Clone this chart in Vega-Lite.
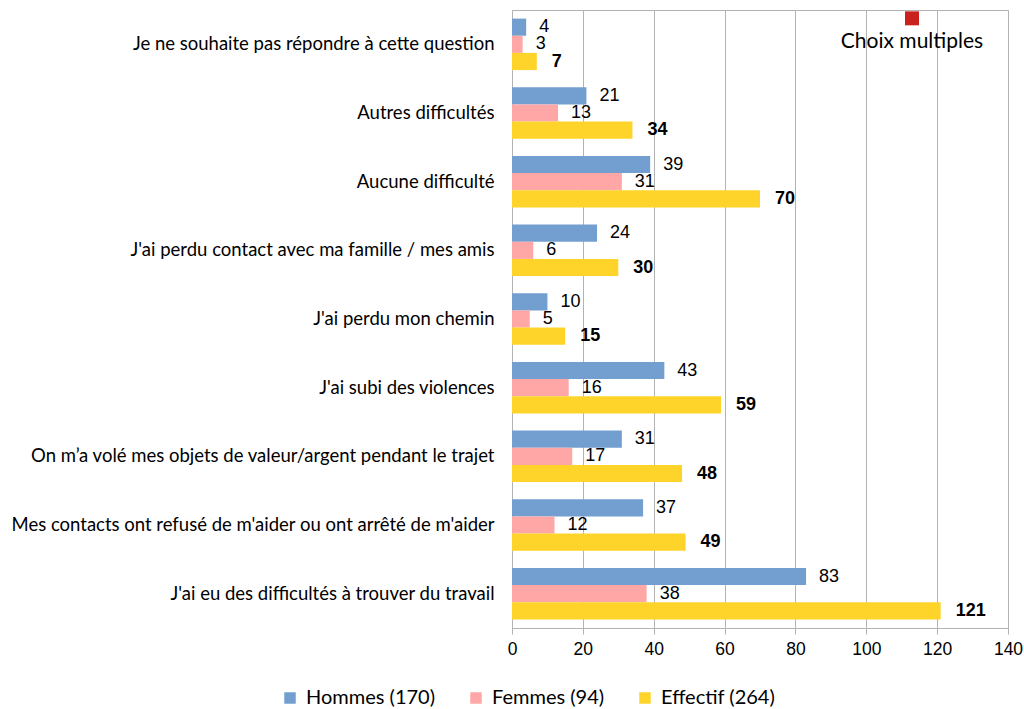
{
  "$schema": "https://vega.github.io/schema/vega-lite/v6.json",
  "width": 496,
  "height": 618,
  "padding": {"left": 10, "top": 10, "right": 0, "bottom": 5},
  "background": "white",
  "config": {
    "view": {"stroke": "#b3b3b3", "strokeWidth": 1},
    "axis": {"labelColor": "black", "titleColor": "black"}
  },
  "datasets": {
    "main": [
      {"cat": "Je ne souhaite pas répondre à cette question", "groupe": "Hommes (170)", "v": 4},
      {"cat": "Je ne souhaite pas répondre à cette question", "groupe": "Femmes (94)", "v": 3},
      {"cat": "Je ne souhaite pas répondre à cette question", "groupe": "Effectif (264)", "v": 7},
      {"cat": "Autres difficultés", "groupe": "Hommes (170)", "v": 21},
      {"cat": "Autres difficultés", "groupe": "Femmes (94)", "v": 13},
      {"cat": "Autres difficultés", "groupe": "Effectif (264)", "v": 34},
      {"cat": "Aucune difficulté", "groupe": "Hommes (170)", "v": 39},
      {"cat": "Aucune difficulté", "groupe": "Femmes (94)", "v": 31},
      {"cat": "Aucune difficulté", "groupe": "Effectif (264)", "v": 70},
      {"cat": "J'ai perdu contact avec ma famille / mes amis", "groupe": "Hommes (170)", "v": 24},
      {"cat": "J'ai perdu contact avec ma famille / mes amis", "groupe": "Femmes (94)", "v": 6},
      {"cat": "J'ai perdu contact avec ma famille / mes amis", "groupe": "Effectif (264)", "v": 30},
      {"cat": "J'ai perdu mon chemin", "groupe": "Hommes (170)", "v": 10},
      {"cat": "J'ai perdu mon chemin", "groupe": "Femmes (94)", "v": 5},
      {"cat": "J'ai perdu mon chemin", "groupe": "Effectif (264)", "v": 15},
      {"cat": "J'ai subi des violences", "groupe": "Hommes (170)", "v": 43},
      {"cat": "J'ai subi des violences", "groupe": "Femmes (94)", "v": 16},
      {"cat": "J'ai subi des violences", "groupe": "Effectif (264)", "v": 59},
      {"cat": "On m’a volé mes objets de valeur/argent pendant le trajet", "groupe": "Hommes (170)", "v": 31},
      {"cat": "On m’a volé mes objets de valeur/argent pendant le trajet", "groupe": "Femmes (94)", "v": 17},
      {"cat": "On m’a volé mes objets de valeur/argent pendant le trajet", "groupe": "Effectif (264)", "v": 48},
      {"cat": "Mes contacts ont refusé de m'aider ou ont arrêté de m'aider", "groupe": "Hommes (170)", "v": 37},
      {"cat": "Mes contacts ont refusé de m'aider ou ont arrêté de m'aider", "groupe": "Femmes (94)", "v": 12},
      {"cat": "Mes contacts ont refusé de m'aider ou ont arrêté de m'aider", "groupe": "Effectif (264)", "v": 49},
      {"cat": "J'ai eu des difficultés à trouver du travail", "groupe": "Hommes (170)", "v": 83},
      {"cat": "J'ai eu des difficultés à trouver du travail", "groupe": "Femmes (94)", "v": 38},
      {"cat": "J'ai eu des difficultés à trouver du travail", "groupe": "Effectif (264)", "v": 121}
    ],
    "note": [
      {"cat": "Je ne souhaite pas répondre à cette question", "x": 112.9, "label": "Choix multiples"}
    ]
  },
  "encoding": {
    "y": {
      "field": "cat",
      "type": "nominal",
      "sort": [
        "Je ne souhaite pas répondre à cette question",
        "Autres difficultés",
        "Aucune difficulté",
        "J'ai perdu contact avec ma famille / mes amis",
        "J'ai perdu mon chemin",
        "J'ai subi des violences",
        "On m’a volé mes objets de valeur/argent pendant le trajet",
        "Mes contacts ont refusé de m'aider ou ont arrêté de m'aider",
        "J'ai eu des difficultés à trouver du travail"
      ],
      "scale": {"paddingInner": 0.25, "paddingOuter": 0.125},
      "axis": {
        "title": null,
        "domain": false,
        "ticks": false,
        "labelFont": "Lato",
        "labelFontSize": 18.5,
        "labelPadding": 18,
        "labelLimit": 700
      }
    }
  },
  "layer": [
    {
      "data": {"name": "main"},
      "mark": {"type": "bar"},
      "encoding": {
        "x": {
          "field": "v",
          "type": "quantitative",
          "scale": {"domain": [0, 140]},
          "axis": {
            "title": null,
            "values": [0, 20, 40, 60, 80, 100, 120, 140],
            "grid": true,
            "gridColor": "#b3b3b3",
            "domainColor": "#b3b3b3",
            "tickColor": "#b3b3b3",
            "tickSize": 6,
            "labelFlush": false,
            "labelOverlap": false,
            "labelFont": "Liberation Sans",
            "labelFontSize": 17.5,
            "labelPadding": 6
          }
        },
        "yOffset": {
          "field": "groupe",
          "sort": ["Hommes (170)", "Femmes (94)", "Effectif (264)"]
        },
        "color": {
          "field": "groupe",
          "type": "nominal",
          "sort": ["Hommes (170)", "Femmes (94)", "Effectif (264)"],
          "scale": {
            "domain": ["Hommes (170)", "Femmes (94)", "Effectif (264)"],
            "range": ["#729fcf", "#ffa6a6", "#ffd42a"]
          },
          "legend": {
            "title": null,
            "orient": "none",
            "legendX": -232,
            "legendY": 678,
            "direction": "horizontal",
            "symbolType": "square",
            "symbolSize": 132,
            "symbolStrokeWidth": 0,
            "labelFont": "Lato",
            "labelFontSize": 20,
            "labelColor": "black",
            "labelOffset": 6,
            "columnPadding": 30
          }
        }
      }
    },
    {
      "data": {"name": "main"},
      "transform": [{"filter": "datum.groupe !== 'Effectif (264)'"}],
      "mark": {"type": "text", "align": "left", "dx": 13, "font": "Liberation Sans", "fontSize": 18, "color": "black"},
      "encoding": {
        "x": {"field": "v", "type": "quantitative"},
        "yOffset": {
          "field": "groupe",
          "sort": ["Hommes (170)", "Femmes (94)", "Effectif (264)"]
        },
        "text": {"field": "v", "type": "quantitative"}
      }
    },
    {
      "data": {"name": "main"},
      "transform": [{"filter": "datum.groupe === 'Effectif (264)'"}],
      "mark": {"type": "text", "align": "left", "dx": 15, "font": "Liberation Sans", "fontSize": 18, "fontWeight": "bold", "color": "black"},
      "encoding": {
        "x": {"field": "v", "type": "quantitative"},
        "yOffset": {
          "field": "groupe",
          "sort": ["Hommes (170)", "Femmes (94)", "Effectif (264)"]
        },
        "text": {"field": "v", "type": "quantitative"}
      }
    },
    {
      "data": {"name": "note"},
      "mark": {"type": "point", "shape": "square", "filled": true, "size": 196, "color": "#c9211e", "opacity": 1, "yOffset": -26},
      "encoding": {
        "x": {"field": "x", "type": "quantitative"}
      }
    },
    {
      "data": {"name": "note"},
      "mark": {"type": "text", "font": "Lato", "fontSize": 21, "color": "black", "dy": -2},
      "encoding": {
        "x": {"field": "x", "type": "quantitative"},
        "text": {"field": "label"}
      }
    }
  ]
}
